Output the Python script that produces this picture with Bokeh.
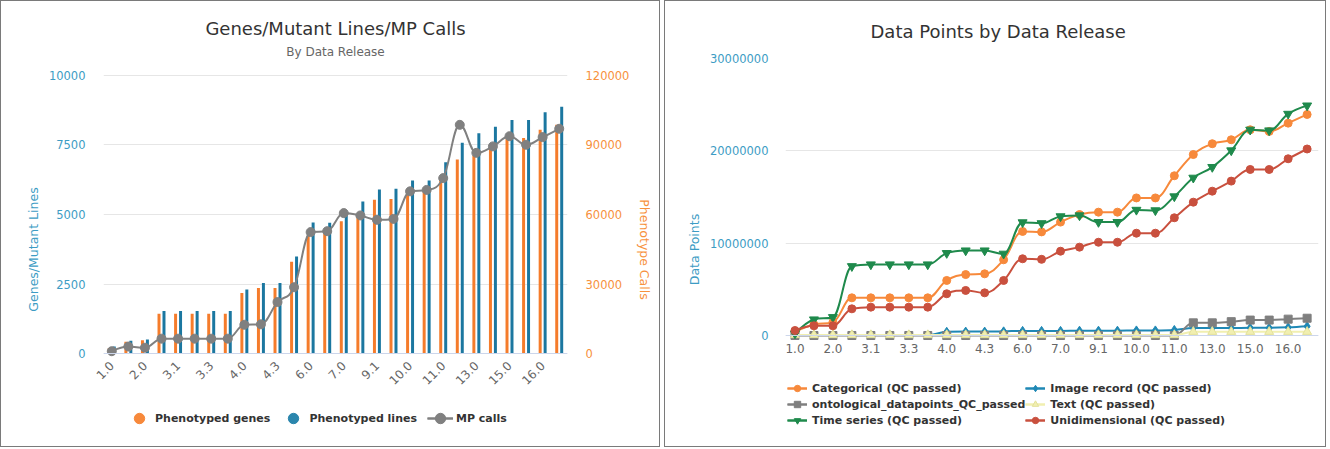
import math
from bokeh.plotting import figure
from bokeh.models import (Range1d, LinearAxis, FixedTicker, Legend, LegendItem,
                          Title, Span, ColumnDataSource, NumeralTickFormatter)
from bokeh.layouts import row
from bokeh.transform import dodge
from bokeh.embed import file_html
from bokeh.resources import INLINE

# ---------------- data ----------------
releases = ["1.0", "1.1", "2.0", "3.0", "3.1", "3.2", "3.3", "3.4", "4.0", "4.2",
            "4.3", "5.0", "6.0", "6.1", "7.0", "8.0", "9.1", "9.2", "10.0", "10.1",
            "11.0", "12.0", "13.0", "14.0", "15.0", "15.1", "16.0", "17.0"]

phenotyped_genes = [200, 420, 480, 1430, 1430, 1430, 1430, 1430, 2180, 2360,
                    2360, 3300, 4230, 4300, 4760, 4900, 5530, 5560, 5920, 5900,
                    6220, 6980, 7120, 7360, 7720, 7750, 8050, 8230]
phenotyped_lines = [250, 460, 500, 1530, 1530, 1530, 1530, 1530, 2300, 2540,
                    2540, 3490, 4710, 4700, 5060, 5470, 5900, 5930, 6220, 6220,
                    6880, 7580, 7920, 8160, 8400, 8400, 8680, 8880]
mp_calls = [1000, 3000, 2500, 6400, 6400, 6400, 6400, 6400, 12400, 12600,
            22200, 28600, 52400, 52800, 60600, 59600, 57700, 58100, 70000, 70600,
            75700, 98700, 86600, 89400, 93800, 90100, 93400, 97000]

categorical_qc = [400000, 1190000, 1440000, 4080000, 4080000, 4080000, 4080000, 4080000,
                  5960000, 6600000, 6680000, 8200000, 11270000, 11220000, 12280000,
                  13100000, 13360000, 13360000, 14900000, 14900000, 17300000, 19600000,
                  20770000, 21200000, 22280000, 22100000, 23000000, 23940000]
image_record_qc = [50000, 50000, 50000, 50000, 50000, 50000, 50000, 50000,
                   400000, 420000, 420000, 450000, 500000, 500000, 500000, 520000,
                   520000, 520000, 550000, 550000, 600000, 800000, 820000, 820000,
                   830000, 830000, 880000, 1000000]
ontological_qc = [0, 0, 0, 0, 0, 0, 0, 0, 0, 0, 0, 0, 0, 0, 0, 0, 0, 0, 0, 0, 0,
                  1370000, 1370000, 1500000, 1670000, 1670000, 1770000, 1870000]
text_qc = [50000, 50000, 50000, 50000, 50000, 50000, 50000, 50000, 50000, 50000,
           50000, 50000, 50000, 50000, 50000, 50000, 50000, 50000, 50000, 50000,
           50000, 400000, 400000, 400000, 400000, 400000, 400000, 400000]
time_series_qc = [200000, 1730000, 1980000, 7500000, 7690000, 7690000, 7690000, 7690000,
                  8920000, 9200000, 9200000, 8850000, 12250000, 12150000, 12900000,
                  13000000, 12280000, 12280000, 13600000, 13550000, 15060000, 17080000,
                  18240000, 20040000, 22280000, 22200000, 24000000, 24900000]
unidimensional_qc = [540000, 1050000, 1050000, 2890000, 3070000, 3070000, 3070000, 3070000,
                     4520000, 4880000, 4620000, 5960000, 8310000, 8250000, 9130000,
                     9570000, 10100000, 10100000, 11080000, 11080000, 12750000, 14440000,
                     15630000, 16720000, 17980000, 17980000, 19140000, 20200000]

# ---------------- styling ----------------
FONT = "DejaVu Sans"
ORANGE = "#f57c2b"
BLUE = "#1b77a0"
GRAY = "#808080"
TEAL = "#3d9cc4"
AXIS_ORANGE = "#f7913d"
GRID = "#e6e6e6"
BASE = "#ccd6eb"
BORDER = {"border": "1px solid #7a7a7a"}


def spline_segments(xs, ys):
    """Bezier control points (Highcharts-style spline) computed from the data points."""
    n = len(xs)
    lc = [(xs[i], ys[i]) for i in range(n)]
    rc = [(xs[i], ys[i]) for i in range(n)]
    sm, den = 1.5, 2.5
    for i in range(1, n - 1):
        px, py = xs[i], ys[i]
        lx, ly = (sm * px + xs[i - 1]) / den, (sm * py + ys[i - 1]) / den
        rx, ry = (sm * px + xs[i + 1]) / den, (sm * py + ys[i + 1]) / den
        if rx != lx:
            corr = ((ry - ly) * (rx - px)) / (rx - lx) + py - ry
            ly += corr
            ry += corr
            last, nxt = ys[i - 1], ys[i + 1]
            if ly > last and ly > py:
                ly = max(last, py); ry = 2 * py - ly
            elif ly < last and ly < py:
                ly = min(last, py); ry = 2 * py - ly
            if ry > nxt and ry > py:
                ry = max(nxt, py); ly = 2 * py - ry
            elif ry < nxt and ry < py:
                ry = min(nxt, py); ly = 2 * py - ry
        lc[i] = (lx, ly)
        rc[i] = (rx, ry)
    d = dict(x0=[], y0=[], x1=[], y1=[], cx0=[], cy0=[], cx1=[], cy1=[])
    for i in range(n - 1):
        d["x0"].append(xs[i]); d["y0"].append(ys[i])
        d["x1"].append(xs[i + 1]); d["y1"].append(ys[i + 1])
        d["cx0"].append(rc[i][0]); d["cy0"].append(rc[i][1])
        d["cx1"].append(lc[i + 1][0]); d["cy1"].append(lc[i + 1][1])
    return ColumnDataSource(d)


def style_y(ax, color, label, standoff):
    ax.axis_label = label
    ax.axis_label_text_color = color
    ax.axis_label_text_font = FONT
    ax.axis_label_text_font_size = "12.5px"
    ax.axis_label_text_font_style = "normal"
    ax.major_label_text_color = color
    ax.major_label_text_font = FONT
    ax.major_label_text_font_size = "11.5px"
    ax.axis_line_color = None
    ax.major_tick_line_color = None
    ax.minor_tick_line_color = None
    ax.major_tick_out = 0
    ax.major_tick_in = 0
    ax.major_label_standoff = standoff
    ax.formatter = NumeralTickFormatter(format="0")


def style_x(ax, size, standoff):
    ax.axis_line_color = None
    ax.major_tick_line_color = None
    ax.minor_tick_line_color = None
    ax.major_tick_out = 0
    ax.major_tick_in = 0
    ax.major_label_standoff = standoff
    ax.major_label_text_color = "#666666"
    ax.major_label_text_font = FONT
    ax.major_label_text_font_size = size


def style_title(t, size, color, align="center"):
    t.align = align
    t.text_font = FONT
    t.text_font_size = size
    t.text_font_style = "normal"
    t.text_color = color


def style_legend(lg):
    lg.label_text_font = FONT
    lg.label_text_font_style = "bold"
    lg.label_text_font_size = "11px"
    lg.label_text_color = "#333333"
    lg.border_line_color = None
    lg.background_fill_alpha = 0
    lg.inactive_fill_alpha = 0


x_idx = list(range(len(releases)))
even = x_idx[::2]
overrides = {i: releases[i] for i in even}

# ================= left chart =================
src1 = ColumnDataSource(dict(x=x_idx, genes=phenotyped_genes,
                             lines=phenotyped_lines, calls=mp_calls))

p1 = figure(width=660, height=447, x_range=Range1d(-0.5, 27.5),
            y_range=Range1d(-3129, 10611), output_backend="svg",
            toolbar_location=None, title="Genes/Mutant Lines/MP Calls",
            min_border_left=102, min_border_right=94,
            min_border_top=57, min_border_bottom=8)
p1.extra_y_ranges = {"calls": Range1d(-37548, 127332)}
p1.outline_line_color = None
p1.styles = BORDER
style_title(p1.title, "18px", "#333333")
p1.title.standoff = 8
sub = Title(text="By Data Release", standoff=0)
style_title(sub, "12px", "#666666")
p1.add_layout(sub, "above")

style_y(p1.yaxis[0], TEAL, "Genes/Mutant Lines", 18)
p1.yaxis[0].ticker = FixedTicker(ticks=[0, 2500, 5000, 7500, 10000])
ax_r = LinearAxis(y_range_name="calls",
                  ticker=FixedTicker(ticks=[0, 30000, 60000, 90000, 120000]))
style_y(ax_r, AXIS_ORANGE, "Phenotype Calls", 18)
p1.add_layout(ax_r, "right")

p1.ygrid.ticker = FixedTicker(ticks=[0, 2500, 5000, 7500, 10000])
p1.ygrid.grid_line_color = GRID
p1.xgrid.visible = False

style_x(p1.xaxis[0], "12px", -77)
p1.xaxis[0].ticker = FixedTicker(ticks=even)
p1.xaxis[0].major_label_overrides = overrides
p1.xaxis[0].major_label_orientation = math.pi / 4

p1.add_layout(Span(location=0, dimension="width", line_color=BASE, line_width=1))

p1.vbar(x=dodge("x", -0.15), top="genes", bottom=0, width=0.18, source=src1,
        fill_color=ORANGE, line_color=None)
p1.vbar(x=dodge("x", 0.15), top="lines", bottom=0, width=0.18, source=src1,
        fill_color=BLUE, line_color=None)
bz_mp = p1.bezier(x0="x0", y0="y0", x1="x1", y1="y1", cx0="cx0", cy0="cy0",
                  cx1="cx1", cy1="cy1", source=spline_segments(x_idx, mp_calls),
                  y_range_name="calls", line_color=GRAY, line_width=2)
r_mp = p1.scatter("x", "calls", source=src1, y_range_name="calls", size=9,
                  fill_color=GRAY, line_color=GRAY)

# legend keys (hidden renderers on the same data, used only for the legend swatches)
lg_g = p1.scatter("x", "genes", source=src1, fill_color="#f7893b",
                  line_color="#f7893b", visible=False)
lg_l = p1.scatter("x", "lines", source=src1, fill_color="#2a86ad",
                  line_color="#2a86ad", visible=False)
lg_line = p1.line("x", "calls", source=src1, y_range_name="calls",
                  line_color=GRAY, line_width=2, visible=False)

legend1 = Legend(items=[LegendItem(label="Phenotyped genes", renderers=[lg_g]),
                        LegendItem(label="Phenotyped lines", renderers=[lg_l]),
                        LegendItem(label="MP calls", renderers=[lg_line, bz_mp, r_mp])],
                 orientation="horizontal", location=(23, 9),
                 glyph_width=26, glyph_height=26, spacing=10, label_standoff=3,
                 padding=4, margin=0)
style_legend(legend1)
p1.add_layout(legend1, "center")

# ================= right chart =================
p2 = figure(width=662, height=447, x_range=Range1d(-0.5, 27.6),
            y_range=Range1d(-11372000, 30000000), output_backend="svg",
            toolbar_location=None, title="Data Points by Data Release",
            min_border_left=120, min_border_right=9,
            min_border_top=57, min_border_bottom=8)
p2.outline_line_color = None
p2.styles = BORDER
style_title(p2.title, "18px", "#333333", align="left")
p2.title.standoff = 33
p2.title.offset = 85

style_y(p2.yaxis[0], TEAL, "Data Points", 17)
p2.yaxis[0].ticker = FixedTicker(ticks=[0, 10000000, 20000000, 30000000])
p2.ygrid.ticker = FixedTicker(ticks=[0, 10000000, 20000000, 30000000])
p2.ygrid.grid_line_color = GRID
p2.xgrid.visible = False

style_x(p2.xaxis[0], "12px", -97)
p2.xaxis[0].ticker = FixedTicker(ticks=even)
p2.xaxis[0].major_label_overrides = overrides

p2.add_layout(Span(location=0, dimension="width", line_color=BASE, line_width=1))

series = [
    ("Categorical (QC passed)", categorical_qc, "#f7893b", "circle", 8, "#f7893b"),
    ("Image record (QC passed)", image_record_qc, "#1f88b5", "diamond", 9, "#1f88b5"),
    ("ontological_datapoints_QC_passed", ontological_qc, "#7f7f7f", "square", 8, "#7f7f7f"),
    ("Text (QC passed)", text_qc, "#f1efb0", "triangle", 9, "#e3e19a"),
    ("Time series (QC passed)", time_series_qc, "#1f8a4c", "inverted_triangle", 9, "#1f8a4c"),
    ("Unidimensional (QC passed)", unidimensional_qc, "#c9503e", "circle", 8, "#c9503e"),
]
items = {}
for name, vals, color, marker, size, lcolor in series:
    src = ColumnDataSource(dict(x=x_idx, y=vals))
    bz = p2.bezier(x0="x0", y0="y0", x1="x1", y1="y1", cx0="cx0", cy0="cy0",
                   cx1="cx1", cy1="cy1", source=spline_segments(x_idx, vals),
                   line_color=color, line_width=2)
    r = p2.scatter("x", "y", source=src, marker=marker, size=size,
                   fill_color=color, line_color=lcolor)
    key = p2.line("x", "y", source=src, line_color=color, line_width=2, visible=False)
    items[name] = LegendItem(label=name, renderers=[key, bz, r])

order = ["Categorical (QC passed)", "ontological_datapoints_QC_passed",
         "Time series (QC passed)", "Image record (QC passed)",
         "Text (QC passed)", "Unidimensional (QC passed)"]
legend2 = Legend(items=[items[k] for k in order], orientation="vertical", nrows=3,
                 location=(2, 12),
                 glyph_width=20, glyph_height=16, label_height=16, spacing=0,
                 label_standoff=5, padding=6, margin=0)
style_legend(legend2)
p2.add_layout(legend2, "center")

layout = row(p1, p2, spacing=4)
open("out.html", "w").write(file_html(layout, INLINE))
